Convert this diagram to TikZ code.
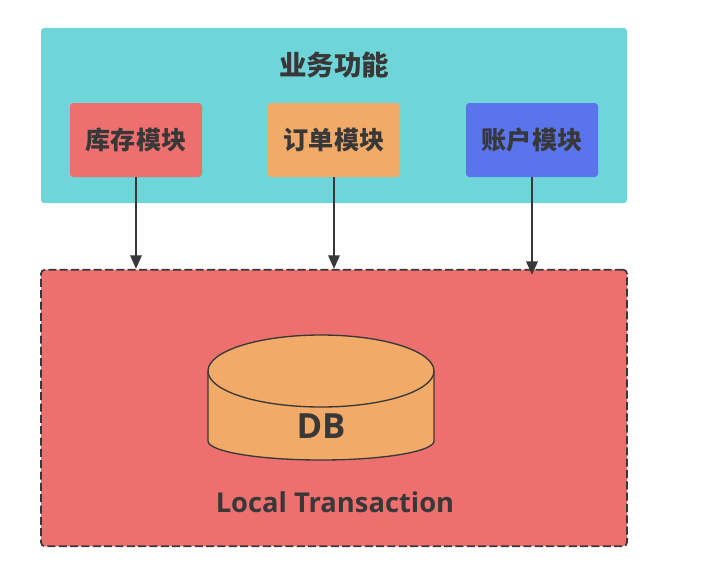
\documentclass[tikz,border=0pt]{standalone}
\usepackage{fontspec}
\setmainfont{Open Sans}
\newfontfamily\cjk{Noto Sans CJK SC}
\usetikzlibrary{arrows.meta}
\definecolor{tealbg}{RGB}{110,214,216}
\definecolor{redbox}{RGB}{237,112,111}
\definecolor{orangebox}{RGB}{241,170,104}
\definecolor{bluebox}{RGB}{90,116,236}
\definecolor{inkdark}{RGB}{56,56,56}
\tikzset{
  modbox/.style={rounded corners=2.5pt,minimum width=99pt,minimum height=55.5pt,inner sep=0pt,text=inkdark,font=\cjk\bfseries\fontsize{18.8}{20}\selectfont},
  flow/.style={draw=inkdark,line width=1.3pt,-{Triangle[length=10pt,width=8.5pt]}}
}
\begin{document}
\begin{tikzpicture}[x=0.75pt,y=0.75pt,yscale=-1,xscale=1]
\useasboundingbox (0,0) rectangle (706,575);

%top panel
\node (panel) [fill=tealbg,rounded corners=2.5pt,minimum width=439.5pt,minimum height=131.5pt,inner sep=0pt] at (334,115.5) {};
\node (title) [text=inkdark,font=\cjk\bfseries\fontsize{20.6}{22}\selectfont] at (334,65.5) {业务功能};

%modules
\node (kucun) [modbox,fill=redbox] at (136,140) {库存模块};
\node (dingdan) [modbox,fill=orangebox] at (334,140) {订单模块};
\node (zhanghu) [modbox,fill=bluebox] at (532,140) {账户模块};

%lower panel
\node (txbox) [fill=redbox,draw=inkdark,dash pattern={on 6pt off 2.5pt},line width=1.3pt,rounded corners=3pt,minimum width=439.5pt,minimum height=207.5pt,inner sep=0pt] at (334,408) {};

%arrows
\draw [flow] (kucun.south) -- (kucun.south |- txbox.north);
\draw [flow] (dingdan.south) -- (dingdan.south |- txbox.north);
\draw [flow] (zhanghu.south) -- ([yshift=4.5pt]zhanghu.south |- txbox.north);

%cylinder
\draw [fill=orangebox,draw=inkdark,line width=1pt] (208,371) -- (208,441) arc [start angle=180,end angle=0,x radius=113,y radius=19] -- (434,371) arc [start angle=0,end angle=-180,x radius=113,y radius=36] -- cycle;
\draw [draw=inkdark,line width=1pt] (208,371) arc [start angle=180,end angle=0,x radius=113,y radius=36];

% text
\node (db) [text=inkdark,font=\bfseries\fontsize{26}{28}\selectfont] at (321,426) {DB};
\node (txlabel) [text=inkdark,font=\bfseries\fontsize{20.5}{22}\selectfont] at (335,502) {Local Transaction};
\end{tikzpicture}
\end{document}
